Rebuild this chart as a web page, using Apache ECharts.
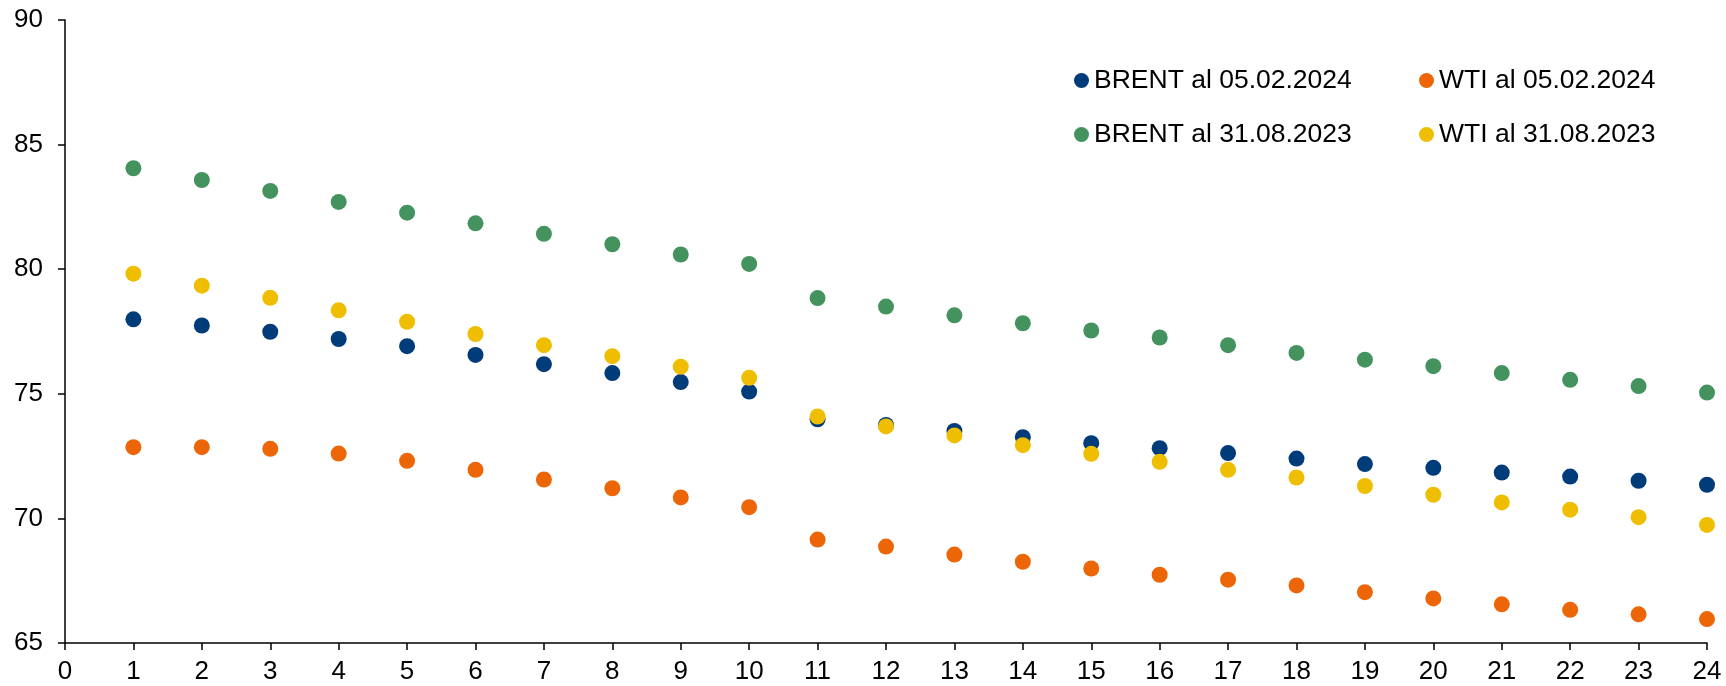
<!DOCTYPE html>
<html>
<head>
<meta charset="utf-8">
<script src="https://cdn.jsdelivr.net/npm/echarts@6/dist/echarts.min.js"></script>
<style>
  html, body { margin: 0; padding: 0; background: #ffffff; }
  #chart { width: 1726px; height: 686px; }
</style>
</head>
<body>
<div id="chart"></div>
<script>
// Months ahead on the futures curve
const months = [1, 2, 3, 4, 5, 6, 7, 8, 9, 10, 11, 12, 13, 14, 15, 16, 17, 18, 19, 20, 21, 22, 23, 24];

// Futures prices (USD/barrel)
const brentFeb2024 = [77.99, 77.74, 77.49, 77.20, 76.91, 76.56, 76.19, 75.83, 75.47, 75.09,
                      73.98, 73.75, 73.51, 73.26, 73.02, 72.82, 72.62, 72.40, 72.18, 72.03,
                      71.84, 71.68, 71.51, 71.35];
const wtiFeb2024   = [72.86, 72.86, 72.79, 72.60, 72.31, 71.95, 71.56, 71.21, 70.84, 70.45,
                      69.15, 68.87, 68.55, 68.26, 67.99, 67.74, 67.54, 67.31, 67.04, 66.79,
                      66.55, 66.33, 66.15, 65.96];
const brentAug2023 = [84.05, 83.58, 83.14, 82.70, 82.27, 81.84, 81.42, 81.00, 80.59, 80.21,
                      78.84, 78.50, 78.15, 77.83, 77.54, 77.26, 76.95, 76.64, 76.37, 76.11,
                      75.83, 75.56, 75.31, 75.05];
const wtiAug2023   = [79.82, 79.34, 78.85, 78.35, 77.89, 77.40, 76.95, 76.51, 76.09, 75.64,
                      74.09, 73.69, 73.33, 72.94, 72.59, 72.27, 71.95, 71.64, 71.30, 70.95,
                      70.64, 70.35, 70.05, 69.74];

const seriesNames = ['BRENT al 05.02.2024', 'WTI al 05.02.2024', 'BRENT al 31.08.2023', 'WTI al 31.08.2023'];
const seriesColors = ['#003B7A', '#EC6608', '#44935F', '#EFBE00'];
const seriesValues = [brentFeb2024, wtiFeb2024, brentAug2023, wtiAug2023];

const FONT = '"Liberation Sans", Arial, sans-serif';
const AXIS_COLOR = '#000000';

const chart = echarts.init(document.getElementById('chart'), null, { renderer: 'canvas' });

const legendText = { fontFamily: FONT, fontSize: 26.5, color: '#000000', lineHeight: 26 };
const legendBase = {
  orient: 'vertical',
  top: 62,
  itemWidth: 15, itemHeight: 15, itemGap: 27,
  icon: 'circle',
  textStyle: legendText
};

chart.setOption({
  backgroundColor: '#ffffff',
  animation: false,
  grid: { left: 65, right: 19, top: 20, bottom: 43, containLabel: false },
  legend: [
    Object.assign({ data: [seriesNames[0], seriesNames[2]], left: 1069 }, legendBase),
    Object.assign({ data: [seriesNames[1], seriesNames[3]], left: 1414 }, legendBase)
  ],
  xAxis: {
    type: 'value',
    min: 0, max: 24, interval: 1,
    axisLine: { show: true, lineStyle: { color: AXIS_COLOR, width: 1.5 } },
    axisTick: { show: true, length: 7, inside: false, lineStyle: { color: AXIS_COLOR, width: 1.5 } },
    splitLine: { show: false },
    axisLabel: { fontFamily: FONT, fontSize: 26, color: '#000000', margin: 16 }
  },
  yAxis: {
    type: 'value',
    min: 65, max: 90, interval: 5,
    axisLine: { show: true, lineStyle: { color: AXIS_COLOR, width: 1.5 } },
    axisTick: { show: true, length: 7, inside: false, lineStyle: { color: AXIS_COLOR, width: 1.5 } },
    splitLine: { show: false },
    axisLabel: { fontFamily: FONT, fontSize: 26, color: '#000000', margin: 22 }
  },
  series: seriesNames.map((name, i) => ({
    name: name,
    type: 'scatter',
    symbol: 'circle',
    symbolSize: 16,
    itemStyle: { color: seriesColors[i], opacity: 1 },
    data: months.map((m, j) => [m, seriesValues[i][j]])
  }))
});
</script>
</body>
</html>
